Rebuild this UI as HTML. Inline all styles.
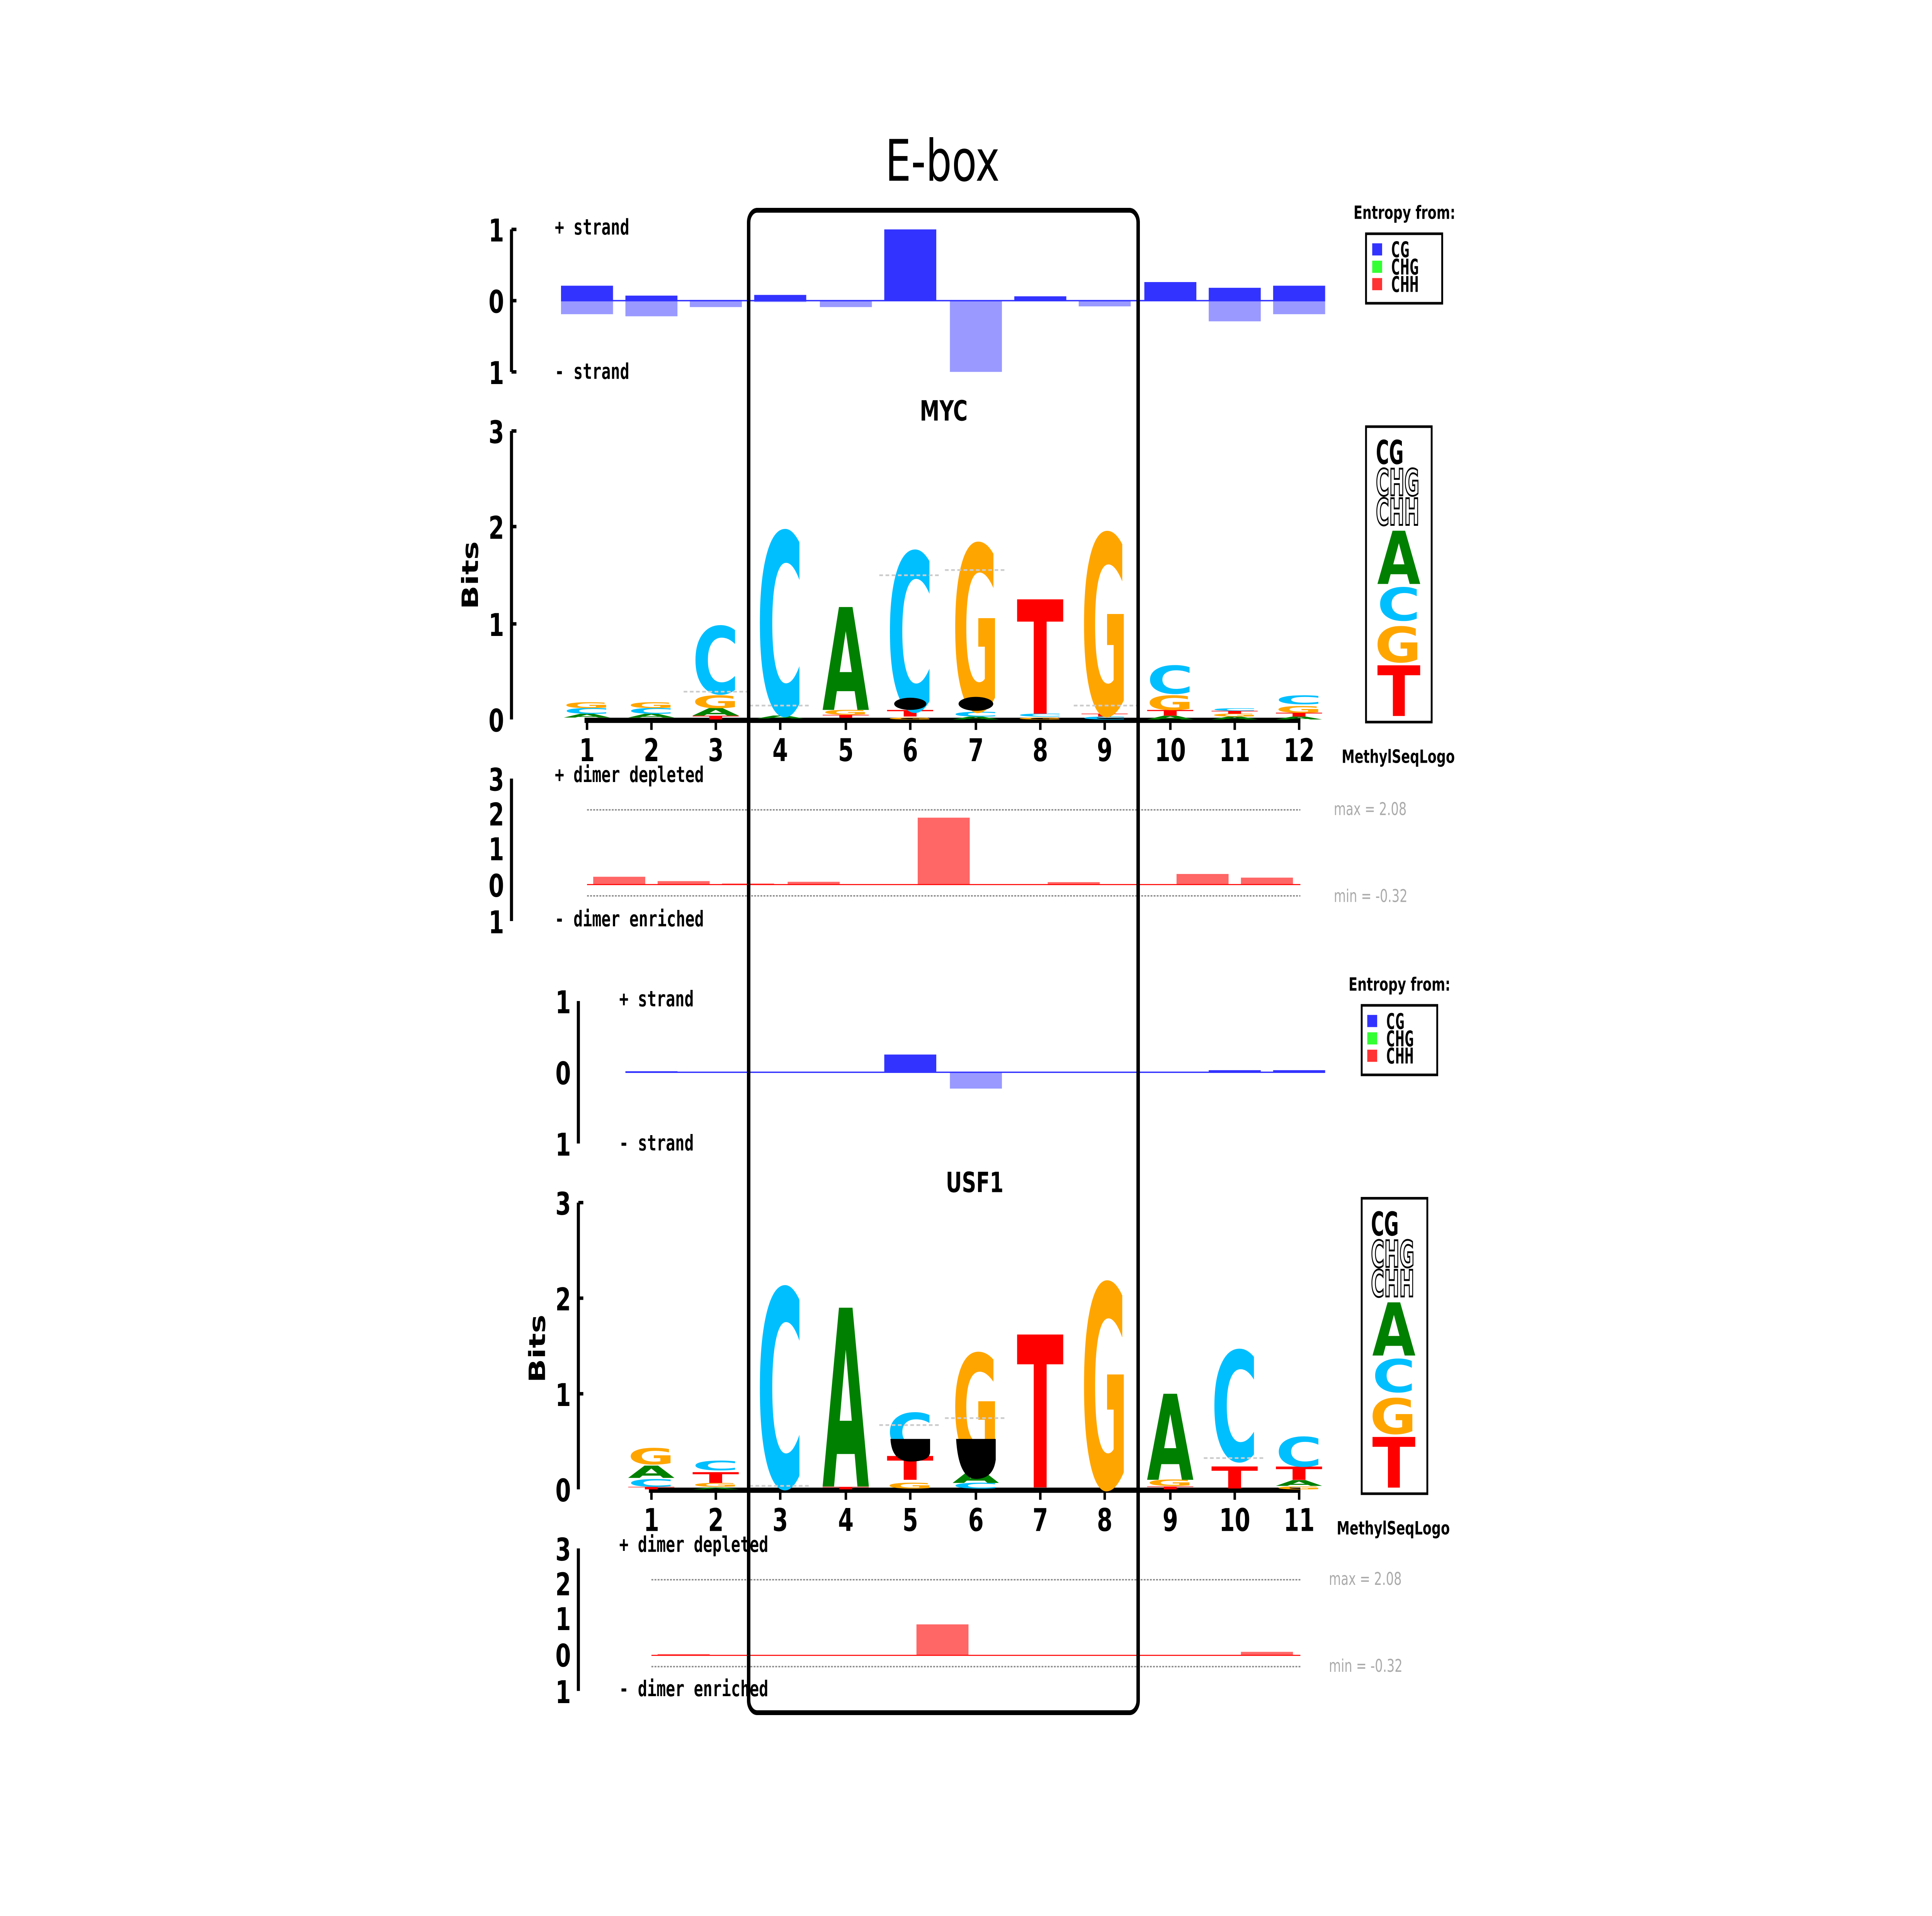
<!DOCTYPE html>
<html><head><meta charset="utf-8"><style>
html,body{margin:0;padding:0;background:#fff;overflow:hidden;width:100vw;height:100vh}
svg{display:block;position:fixed;left:0;top:0;width:100vw;height:100vh}
.L{font-family:"DejaVu Sans","Liberation Sans",sans-serif;font-weight:bold;font-size:100px}
.A{fill:#008000}.C{fill:#00bfff}.G{fill:#ffa500}.T{fill:#ff0000}.K{fill:#000}
.O{fill:#fff;stroke:#000;stroke-width:5}
.tk{font-family:"DejaVu Sans","Liberation Sans",sans-serif;font-weight:bold;font-size:18px}
.mo{font-family:"DejaVu Sans Mono","Liberation Mono",monospace;font-weight:bold;font-size:12.5px}
.sm{font-family:"DejaVu Sans","Liberation Sans",sans-serif;font-weight:bold;font-size:10.5px}
.gr{font-family:"DejaVu Sans","Liberation Sans",sans-serif;font-size:10px;fill:#aaa}
</style></head><body>
<svg viewBox="0 0 1560 1102.5" preserveAspectRatio="none" xmlns="http://www.w3.org/2000/svg">
<rect width="1560" height="1102.5" fill="#fff"/>
<text x="761" y="104" font-family="DejaVu Sans,Liberation Sans,sans-serif" font-size="33" text-anchor="middle">E-box</text>

<!-- ===== MYC strand panel ===== -->
<g>
<line x1="413" y1="132" x2="413" y2="214" stroke="#000" stroke-width="2.5"/>
<g stroke="#000" stroke-width="2"><line x1="413" y1="132" x2="417" y2="132"/><line x1="413" y1="173" x2="417" y2="173"/><line x1="413" y1="214" x2="417" y2="214"/></g>
<g class="tk" text-anchor="end"><text x="407" y="139">1</text><text x="407" y="180">0</text><text x="407" y="221">1</text></g>
<text class="mo" x="448" y="135">+ strand</text><text class="mo" x="448" y="218">- strand</text>
<g fill="#3333ff">
<rect x="453" y="164.4" width="42" height="8.6"/><rect x="505" y="170.1" width="42" height="2.9"/><rect x="557" y="172.6" width="42" height="0.4"/>
<rect x="609" y="169.7" width="42" height="3.3"/><rect x="714" y="132" width="42" height="41"/><rect x="819" y="170.5" width="42" height="2.5"/>
<rect x="924" y="162.3" width="42" height="10.7"/><rect x="976" y="165.6" width="42" height="7.4"/><rect x="1028" y="164.4" width="42" height="8.6"/>
</g>
<g fill="#9999ff">
<rect x="453" y="173" width="42" height="7.8"/><rect x="505" y="173" width="42" height="9"/><rect x="557" y="173" width="42" height="3.7"/>
<rect x="609" y="173" width="42" height="0.8"/><rect x="662" y="173" width="42" height="3.7"/><rect x="767" y="173" width="42" height="41"/>
<rect x="871" y="173" width="42" height="3.3"/><rect x="976" y="173" width="42" height="11.9"/><rect x="1028" y="173" width="42" height="7.8"/>
</g>
<line x1="453" y1="173" x2="1070" y2="173" stroke="#3333ff" stroke-width="0.8"/>
<text class="sm" x="1134" y="126" text-anchor="middle">Entropy from:</text>
<rect x="1103" y="134.5" width="61.5" height="40" fill="none" stroke="#000" stroke-width="1.5"/>
<rect x="1108" y="140" width="8" height="7" fill="#3333ff"/><rect x="1108" y="150" width="8" height="7" fill="#33ff33"/><rect x="1108" y="160" width="8" height="7" fill="#ff3333"/>
<g class="mo" font-size="11"><text x="1123" y="148">CG</text><text x="1123" y="158">CHG</text><text x="1123" y="168">CHH</text></g>
</g>

<text x="762" y="242" text-anchor="middle" font-family="DejaVu Sans,sans-serif" font-weight="bold" font-size="16">MYC</text>

<!-- ===== MYC logo ===== -->
<line x1="413" y1="248" x2="413" y2="414" stroke="#000" stroke-width="2.5"/>
<g stroke="#000" stroke-width="2"><line x1="413" y1="248" x2="417" y2="248"/><line x1="413" y1="303" x2="417" y2="303"/><line x1="413" y1="359" x2="417" y2="359"/></g>
<g class="tk" text-anchor="end"><text x="407" y="255">3</text><text x="407" y="310">2</text><text x="407" y="366">1</text><text x="407" y="421">0</text></g>
<text class="tk" transform="translate(386,331) rotate(-90)" text-anchor="middle">Bits</text>
<line x1="472" y1="414.5" x2="1050" y2="414.5" stroke="#000" stroke-width="3"/>
<g stroke="#000" stroke-width="2">
<line x1="474" y1="414" x2="474" y2="420"/><line x1="526" y1="414" x2="526" y2="420"/><line x1="578" y1="414" x2="578" y2="420"/><line x1="630" y1="414" x2="630" y2="420"/><line x1="683" y1="414" x2="683" y2="420"/><line x1="735" y1="414" x2="735" y2="420"/><line x1="788" y1="414" x2="788" y2="420"/><line x1="840" y1="414" x2="840" y2="420"/><line x1="892" y1="414" x2="892" y2="420"/><line x1="945" y1="414" x2="945" y2="420"/><line x1="997" y1="414" x2="997" y2="420"/><line x1="1049" y1="414" x2="1049" y2="420"/>
</g>
<g class="tk" text-anchor="middle"><text x="474" y="438">1</text><text x="526" y="438">2</text><text x="578" y="438">3</text><text x="630" y="438">4</text><text x="683" y="438">5</text><text x="735" y="438">6</text><text x="788" y="438">7</text><text x="840" y="438">8</text><text x="892" y="438">9</text><text x="945" y="438">10</text><text x="997" y="438">11</text><text x="1049" y="438">12</text></g>
<g class="L">
<text class="A" textLength="70" lengthAdjust="spacingAndGlyphs" transform="translate(455,412.9) scale(0.54,0.030)">A</text>
<text class="C" textLength="70" lengthAdjust="spacingAndGlyphs" transform="translate(455,410.7) scale(0.54,0.045)">C</text>
<text class="G" textLength="70" lengthAdjust="spacingAndGlyphs" transform="translate(455,407.4) scale(0.54,0.045)">G</text>
<text class="A" textLength="70" lengthAdjust="spacingAndGlyphs" transform="translate(507,412.9) scale(0.54,0.030)">A</text>
<text class="C" textLength="70" lengthAdjust="spacingAndGlyphs" transform="translate(507,410.7) scale(0.54,0.045)">C</text>
<text class="G" textLength="70" lengthAdjust="spacingAndGlyphs" transform="translate(507,407.4) scale(0.54,0.045)">G</text>
<text class="T" textLength="70" lengthAdjust="spacingAndGlyphs" transform="translate(559,414) scale(0.54,0.030)">T</text>
<text class="A" textLength="70" lengthAdjust="spacingAndGlyphs" transform="translate(559,411.8) scale(0.54,0.060)">A</text>
<text class="G" textLength="70" lengthAdjust="spacingAndGlyphs" transform="translate(559,407.4) scale(0.54,0.099)">G</text>
<text class="C" textLength="70" lengthAdjust="spacingAndGlyphs" transform="translate(559,399.1) scale(0.54,0.531)">C</text>
<text class="A" textLength="70" lengthAdjust="spacingAndGlyphs" transform="translate(611,413.4) scale(0.54,0.023)">A</text>
<text class="C" textLength="70" lengthAdjust="spacingAndGlyphs" transform="translate(611,410.7) scale(0.54,1.433)">C</text>
<text class="T" textLength="70" lengthAdjust="spacingAndGlyphs" transform="translate(664,413) scale(0.54,0.023)">T</text>
<text class="G" textLength="70" lengthAdjust="spacingAndGlyphs" transform="translate(664,411.2) scale(0.54,0.037)">G</text>
<text class="A" textLength="70" lengthAdjust="spacingAndGlyphs" transform="translate(664,408.5) scale(0.54,0.812)">A</text>
<text class="G" textLength="70" lengthAdjust="spacingAndGlyphs" transform="translate(716,414) scale(0.54,0.015)">G</text>
<text class="T" textLength="70" lengthAdjust="spacingAndGlyphs" transform="translate(716,412.3) scale(0.54,0.052)">T</text>
<text class="C" textLength="70" lengthAdjust="spacingAndGlyphs" transform="translate(716,408.5) scale(0.54,1.244)">C</text>
<text class="A" textLength="70" lengthAdjust="spacingAndGlyphs" transform="translate(769,414) scale(0.54,0.023)">A</text>
<text class="C" textLength="70" lengthAdjust="spacingAndGlyphs" transform="translate(769,412.3) scale(0.54,0.037)">C</text>
<text class="G" textLength="70" lengthAdjust="spacingAndGlyphs" transform="translate(769,408.5) scale(0.54,1.305)">G</text>
<text class="G" textLength="70" lengthAdjust="spacingAndGlyphs" transform="translate(821,414) scale(0.54,0.015)">G</text>
<text class="C" textLength="70" lengthAdjust="spacingAndGlyphs" transform="translate(821,412.3) scale(0.54,0.023)">C</text>
<text class="T" textLength="70" lengthAdjust="spacingAndGlyphs" transform="translate(821,410.7) scale(0.54,0.903)">T</text>
<text class="C" textLength="70" lengthAdjust="spacingAndGlyphs" transform="translate(873,414) scale(0.54,0.023)">C</text>
<text class="T" textLength="70" lengthAdjust="spacingAndGlyphs" transform="translate(873,412.3) scale(0.54,0.023)">T</text>
<text class="G" textLength="70" lengthAdjust="spacingAndGlyphs" transform="translate(873,410.7) scale(0.54,1.418)">G</text>
<text class="A" textLength="70" lengthAdjust="spacingAndGlyphs" transform="translate(926,414) scale(0.54,0.030)">A</text>
<text class="T" textLength="70" lengthAdjust="spacingAndGlyphs" transform="translate(926,411.8) scale(0.54,0.045)">T</text>
<text class="G" textLength="70" lengthAdjust="spacingAndGlyphs" transform="translate(926,408.5) scale(0.54,0.114)">G</text>
<text class="C" textLength="70" lengthAdjust="spacingAndGlyphs" transform="translate(926,399.1) scale(0.54,0.221)">C</text>
<text class="A" textLength="70" lengthAdjust="spacingAndGlyphs" transform="translate(978,414) scale(0.54,0.023)">A</text>
<text class="G" textLength="70" lengthAdjust="spacingAndGlyphs" transform="translate(978,412.3) scale(0.54,0.023)">G</text>
<text class="T" textLength="70" lengthAdjust="spacingAndGlyphs" transform="translate(978,410.7) scale(0.54,0.023)">T</text>
<text class="C" textLength="70" lengthAdjust="spacingAndGlyphs" transform="translate(978,409) scale(0.54,0.020)">C</text>
<text class="A" textLength="70" lengthAdjust="spacingAndGlyphs" transform="translate(1030,414) scale(0.54,0.023)">A</text>
<text class="T" textLength="70" lengthAdjust="spacingAndGlyphs" transform="translate(1030,412.3) scale(0.54,0.030)">T</text>
<text class="G" textLength="70" lengthAdjust="spacingAndGlyphs" transform="translate(1030,410.1) scale(0.54,0.052)">G</text>
<text class="C" textLength="70" lengthAdjust="spacingAndGlyphs" transform="translate(1030,405.2) scale(0.54,0.069)">C</text>
</g>
<ellipse cx="735" cy="405" rx="13" ry="3.5" fill="#000"/>
<ellipse cx="788" cy="405" rx="14" ry="4" fill="#000"/>
<g stroke="#ccc" stroke-width="1" stroke-dasharray="3,2">
<line x1="552" y1="398" x2="603" y2="398"/><line x1="605" y1="406" x2="655" y2="406"/><line x1="710" y1="331" x2="760" y2="331"/><line x1="763" y1="328" x2="813" y2="328"/><line x1="867" y1="406" x2="918" y2="406"/>
</g>
<!-- MYC legend logo -->
<rect x="1103" y="245.5" width="53" height="170" fill="none" stroke="#000" stroke-width="1.5"/>
<g class="L">
<text class="K" textLength="70" lengthAdjust="spacingAndGlyphs" transform="translate(1111,267) scale(0.32,0.19)">CG</text>
<text class="O" textLength="70" lengthAdjust="spacingAndGlyphs" transform="translate(1111,285) scale(0.5,0.21)">CHG</text>
<text class="O" textLength="70" lengthAdjust="spacingAndGlyphs" transform="translate(1111,302) scale(0.5,0.21)">CHH</text>
<text class="A" textLength="70" lengthAdjust="spacingAndGlyphs" transform="translate(1112,336) scale(0.5,0.42)">A</text>
<text class="C" textLength="70" lengthAdjust="spacingAndGlyphs" transform="translate(1112,357) scale(0.5,0.26)">C</text>
<text class="G" textLength="70" lengthAdjust="spacingAndGlyphs" transform="translate(1110,381) scale(0.54,0.28)">G</text>
<text class="T" textLength="70" lengthAdjust="spacingAndGlyphs" transform="translate(1112,412) scale(0.5,0.40)">T</text>
</g>
<text class="sm" x="1129" y="439" text-anchor="middle">MethylSeqLogo</text>

<!-- ===== MYC dimer ===== -->
<line x1="413" y1="448" x2="413" y2="530" stroke="#000" stroke-width="2.5"/>
<g class="tk" text-anchor="end"><text x="407" y="455">3</text><text x="407" y="475">2</text><text x="407" y="495">1</text><text x="407" y="516">0</text><text x="407" y="537">1</text></g>
<text class="mo" x="448" y="450">+ dimer depleted</text><text class="mo" x="448" y="533">- dimer enriched</text>
<g stroke="#888" stroke-width="0.8" stroke-dasharray="1.5,1"><line x1="474" y1="466" x2="1050" y2="466"/><line x1="474" y1="515.5" x2="1050" y2="515.5"/></g>
<g fill="#ff6666">
<rect x="479" y="504.5" width="42" height="4.5"/><rect x="531" y="507" width="42" height="2"/><rect x="583" y="508.4" width="42" height="0.6"/><rect x="636" y="507.4" width="42" height="1.6"/>
<rect x="741" y="470.5" width="42" height="38.5"/><rect x="846" y="507.6" width="42" height="1.4"/><rect x="950" y="502.9" width="42" height="6.1"/><rect x="1002" y="505" width="42" height="4"/>
</g>
<line x1="474" y1="509" x2="1050" y2="509" stroke="#ff0000" stroke-width="0.6"/>
<text class="gr" x="1077" y="469">max = 2.08</text><text class="gr" x="1077" y="519">min = -0.32</text>

<!-- ===== USF1 strand ===== -->
<line x1="467" y1="576" x2="467" y2="658" stroke="#000" stroke-width="2.5"/>
<g class="tk" text-anchor="end"><text x="461" y="583">1</text><text x="461" y="624">0</text><text x="461" y="665">1</text></g>
<text class="mo" x="500" y="579">+ strand</text><text class="mo" x="500" y="662">- strand</text>
<g fill="#3333ff"><rect x="714" y="606.8" width="42" height="10.2"/><rect x="976" y="615.8" width="42" height="1.2"/><rect x="1028" y="615.8" width="42" height="1.2"/><rect x="505" y="616.4" width="42" height="0.6"/></g>
<rect x="767" y="617" width="42" height="9.4" fill="#9999ff"/>
<line x1="505" y1="617" x2="1070" y2="617" stroke="#3333ff" stroke-width="0.8"/>
<text class="sm" x="1130" y="570" text-anchor="middle">Entropy from:</text>
<rect x="1099.5" y="578.5" width="61" height="40" fill="none" stroke="#000" stroke-width="1.5"/>
<rect x="1104" y="584" width="8" height="7" fill="#3333ff"/><rect x="1104" y="594" width="8" height="7" fill="#33ff33"/><rect x="1104" y="604" width="8" height="7" fill="#ff3333"/>
<g class="mo" font-size="11"><text x="1119" y="592">CG</text><text x="1119" y="602">CHG</text><text x="1119" y="612">CHH</text></g>

<text x="787" y="686" text-anchor="middle" font-family="DejaVu Sans,sans-serif" font-weight="bold" font-size="16">USF1</text>

<!-- ===== USF1 logo ===== -->
<line x1="467" y1="692" x2="467" y2="857" stroke="#000" stroke-width="2.5"/>
<g stroke="#000" stroke-width="2"><line x1="467" y1="692" x2="471" y2="692"/><line x1="467" y1="747" x2="471" y2="747"/><line x1="467" y1="802" x2="471" y2="802"/></g>
<g class="tk" text-anchor="end"><text x="461" y="699">3</text><text x="461" y="754">2</text><text x="461" y="809">1</text><text x="461" y="864">0</text></g>
<text class="tk" transform="translate(440,776) rotate(-90)" text-anchor="middle">Bits</text>
<line x1="524" y1="857.5" x2="1050" y2="857.5" stroke="#000" stroke-width="3"/>
<g stroke="#000" stroke-width="2">
<line x1="526" y1="857" x2="526" y2="863"/><line x1="578" y1="857" x2="578" y2="863"/><line x1="630" y1="857" x2="630" y2="863"/><line x1="683" y1="857" x2="683" y2="863"/><line x1="735" y1="857" x2="735" y2="863"/><line x1="788" y1="857" x2="788" y2="863"/><line x1="840" y1="857" x2="840" y2="863"/><line x1="892" y1="857" x2="892" y2="863"/><line x1="945" y1="857" x2="945" y2="863"/><line x1="997" y1="857" x2="997" y2="863"/><line x1="1049" y1="857" x2="1049" y2="863"/>
</g>
<g class="tk" text-anchor="middle"><text x="526" y="881">1</text><text x="578" y="881">2</text><text x="630" y="881">3</text><text x="683" y="881">4</text><text x="735" y="881">5</text><text x="788" y="881">6</text><text x="840" y="881">7</text><text x="892" y="881">8</text><text x="945" y="881">9</text><text x="997" y="881">10</text><text x="1049" y="881">11</text></g>
<g class="L">
<text class="T" textLength="70" lengthAdjust="spacingAndGlyphs" transform="translate(507,857) scale(0.54,0.020)">T</text>
<text class="C" textLength="70" lengthAdjust="spacingAndGlyphs" transform="translate(507,855.5) scale(0.54,0.060)">C</text>
<text class="A" textLength="70" lengthAdjust="spacingAndGlyphs" transform="translate(507,850.4) scale(0.54,0.097)">A</text>
<text class="G" textLength="70" lengthAdjust="spacingAndGlyphs" transform="translate(507,842.6) scale(0.54,0.128)">G</text>
<text class="A" textLength="70" lengthAdjust="spacingAndGlyphs" transform="translate(559,857) scale(0.54,0.015)">A</text>
<text class="G" textLength="70" lengthAdjust="spacingAndGlyphs" transform="translate(559,855.5) scale(0.54,0.030)">G</text>
<text class="T" textLength="70" lengthAdjust="spacingAndGlyphs" transform="translate(559,853.3) scale(0.54,0.085)">T</text>
<text class="C" textLength="70" lengthAdjust="spacingAndGlyphs" transform="translate(559,846) scale(0.54,0.075)">C</text>
<text class="C" textLength="70" lengthAdjust="spacingAndGlyphs" transform="translate(611,855.4) scale(0.54,1.562)">C</text>
<text class="T" textLength="70" lengthAdjust="spacingAndGlyphs" transform="translate(664,857) scale(0.54,0.020)">T</text>
<text class="A" textLength="70" lengthAdjust="spacingAndGlyphs" transform="translate(664,855.4) scale(0.54,1.412)">A</text>
<text class="G" textLength="70" lengthAdjust="spacingAndGlyphs" transform="translate(716,856.5) scale(0.54,0.045)">G</text>
<text class="T" textLength="70" lengthAdjust="spacingAndGlyphs" transform="translate(716,851.5) scale(0.54,0.188)">T</text>
<text class="C" textLength="70" lengthAdjust="spacingAndGlyphs" transform="translate(716,835) scale(0.54,0.302)">C</text>
<text class="C" textLength="70" lengthAdjust="spacingAndGlyphs" transform="translate(769,856.5) scale(0.54,0.045)">C</text>
<text class="A" textLength="70" lengthAdjust="spacingAndGlyphs" transform="translate(769,853.3) scale(0.54,0.100)">A</text>
<text class="G" textLength="70" lengthAdjust="spacingAndGlyphs" transform="translate(769,840.5) scale(0.54,0.845)">G</text>
<text class="T" textLength="70" lengthAdjust="spacingAndGlyphs" transform="translate(821,855.9) scale(0.54,1.207)">T</text>
<text class="G" textLength="70" lengthAdjust="spacingAndGlyphs" transform="translate(873,855.9) scale(0.54,1.606)">G</text>
<text class="T" textLength="70" lengthAdjust="spacingAndGlyphs" transform="translate(926,857) scale(0.54,0.023)">T</text>
<text class="G" textLength="70" lengthAdjust="spacingAndGlyphs" transform="translate(926,855) scale(0.54,0.05)">G</text>
<text class="A" textLength="70" lengthAdjust="spacingAndGlyphs" transform="translate(926,851.5) scale(0.54,0.679)">A</text>
<text class="T" textLength="70" lengthAdjust="spacingAndGlyphs" transform="translate(978,856.5) scale(0.54,0.174)">T</text>
<text class="C" textLength="70" lengthAdjust="spacingAndGlyphs" transform="translate(978,840.4) scale(0.54,0.867)">C</text>
<text class="G" textLength="70" lengthAdjust="spacingAndGlyphs" transform="translate(1030,857) scale(0.54,0.023)">G</text>
<text class="A" textLength="70" lengthAdjust="spacingAndGlyphs" transform="translate(1030,855) scale(0.54,0.045)">A</text>
<text class="T" textLength="70" lengthAdjust="spacingAndGlyphs" transform="translate(1030,851.6) scale(0.54,0.106)">T</text>
<text class="C" textLength="70" lengthAdjust="spacingAndGlyphs" transform="translate(1030,843.8) scale(0.54,0.233)">C</text>
</g>
<path d="M719,828 Q720,841 735,841 Q750,841 751,836 L751,828 Z" fill="#000"/>
<path d="M772,828 Q774,851 788,851 Q802,851 804,840 L804,828 Z" fill="#000"/>
<g stroke="#ccc" stroke-width="1" stroke-dasharray="3,2">
<line x1="605" y1="855" x2="655" y2="855"/><line x1="710" y1="820" x2="760" y2="820"/><line x1="763" y1="816" x2="813" y2="816"/><line x1="972" y1="839" x2="1022" y2="839"/>
</g>
<rect x="1099.5" y="689.5" width="53" height="170" fill="none" stroke="#000" stroke-width="1.5"/>
<g class="L">
<text class="K" textLength="70" lengthAdjust="spacingAndGlyphs" transform="translate(1107,711) scale(0.32,0.19)">CG</text>
<text class="O" textLength="70" lengthAdjust="spacingAndGlyphs" transform="translate(1107,729) scale(0.5,0.21)">CHG</text>
<text class="O" textLength="70" lengthAdjust="spacingAndGlyphs" transform="translate(1107,746) scale(0.5,0.21)">CHH</text>
<text class="A" textLength="70" lengthAdjust="spacingAndGlyphs" transform="translate(1108,780) scale(0.5,0.42)">A</text>
<text class="C" textLength="70" lengthAdjust="spacingAndGlyphs" transform="translate(1108,801) scale(0.5,0.26)">C</text>
<text class="G" textLength="70" lengthAdjust="spacingAndGlyphs" transform="translate(1106,825) scale(0.54,0.28)">G</text>
<text class="T" textLength="70" lengthAdjust="spacingAndGlyphs" transform="translate(1108,856) scale(0.5,0.40)">T</text>
</g>
<text class="sm" x="1125" y="883" text-anchor="middle">MethylSeqLogo</text>

<!-- ===== USF1 dimer ===== -->
<line x1="467" y1="891" x2="467" y2="973" stroke="#000" stroke-width="2.5"/>
<g class="tk" text-anchor="end"><text x="461" y="898">3</text><text x="461" y="918">2</text><text x="461" y="938">1</text><text x="461" y="959">0</text><text x="461" y="980">1</text></g>
<text class="mo" x="500" y="893">+ dimer depleted</text><text class="mo" x="500" y="976">- dimer enriched</text>
<g stroke="#888" stroke-width="0.8" stroke-dasharray="1.5,1"><line x1="526" y1="909" x2="1050" y2="909"/><line x1="526" y1="959" x2="1050" y2="959"/></g>
<g fill="#ff6666"><rect x="740" y="934.7" width="42" height="17.8"/><rect x="1002" y="950.5" width="42" height="2"/><rect x="531" y="951.8" width="42" height="0.7"/></g>
<line x1="526" y1="952.5" x2="1050" y2="952.5" stroke="#ff0000" stroke-width="0.6"/>
<text class="gr" x="1073" y="912">max = 2.08</text><text class="gr" x="1073" y="962">min = -0.32</text>

<!-- E-box frame -->
<rect x="604.5" y="121" width="314.5" height="864.5" rx="7" fill="none" stroke="#000" stroke-width="2.8"/>
</svg>
</body></html>
